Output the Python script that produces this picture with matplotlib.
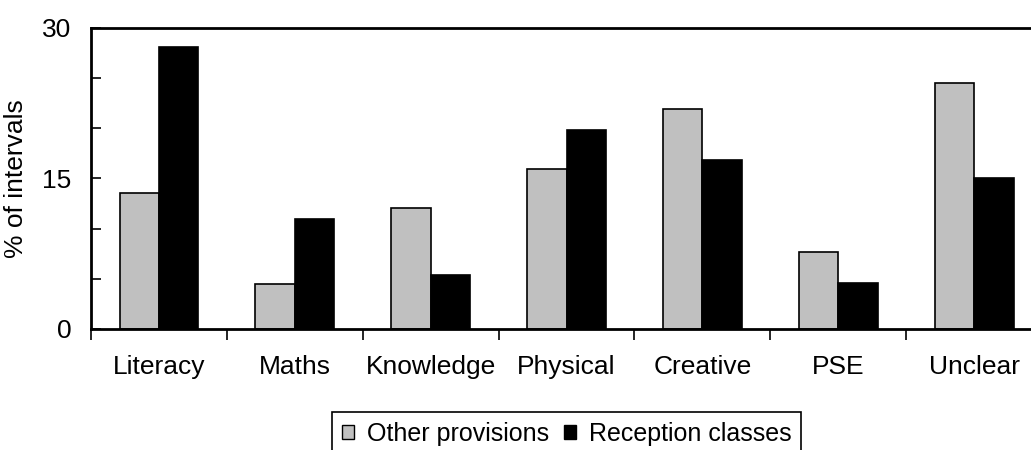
import matplotlib
matplotlib.use("Agg")
import matplotlib.pyplot as plt
from matplotlib.patches import Patch
import numpy as np

plt.rcParams["font.family"] = ["Liberation Sans", "DejaVu Sans"]

# ---- data ----
categories = ["Literacy", "Maths", "Knowledge", "Physical", "Creative", "PSE", "Unclear"]
other_provisions = [13.5, 4.5, 12.1, 15.9, 21.9, 7.7, 24.5]
reception_classes = [28.1, 11.0, 5.4, 19.8, 16.8, 4.6, 15.0]
series_names = ["Other provisions", "Reception classes"]
y_ticks = [0, 15, 30]

FS = 19

fig = plt.figure(figsize=(10.31, 4.5), dpi=100)
# axes runs past the right edge, like the original crop
ax = fig.add_axes([0.0883, 0.269, 0.9224, 0.669])

x = np.arange(len(categories))
w = 0.29
ax.bar(x - w / 2, other_provisions, w, color="#c0c0c0", edgecolor="black", linewidth=1.2)
ax.bar(x + w / 2, reception_classes, w, color="black", edgecolor="black", linewidth=1.2)

ax.set_xlim(-0.5, len(categories) - 0.5)
ax.set_ylim(0, 30)

# ---- y axis ----
ax.set_yticks(y_ticks)
ax.set_yticks(np.arange(0, 31, 5), minor=True)
ax.tick_params(axis="y", which="both", direction="in", length=7, width=1.2,
               labelsize=FS, pad=14)

# ---- x axis: ticks between groups, labels in the middle ----
ax.set_xticks(np.arange(-0.5, len(categories), 1.0))
ax.set_xticklabels([])
ax.tick_params(axis="x", which="major", direction="out", length=8, width=1.2)
ax.set_xticks(x, minor=True)
ax.set_xticklabels(categories, minor=True)
ax.tick_params(axis="x", which="minor", length=0, labelsize=FS, pad=19)

for s in ax.spines.values():
    s.set_linewidth(2)

ax.set_ylabel("% of intervals", fontsize=FS, labelpad=10)

handles = [Patch(facecolor="#c0c0c0", edgecolor="black"),
           Patch(facecolor="black", edgecolor="black")]
leg = ax.legend(handles, series_names, loc="upper center", bbox_to_anchor=(0.5, -0.276),
                ncol=2, fontsize=18, frameon=True, fancybox=False, framealpha=1,
                edgecolor="black", handlelength=0.5, handleheight=0.5,
                handletextpad=0.5, columnspacing=0.6, borderpad=0.4, borderaxespad=0)
leg.get_frame().set_linewidth(1.2)

fig.savefig("out.png", dpi=100)
